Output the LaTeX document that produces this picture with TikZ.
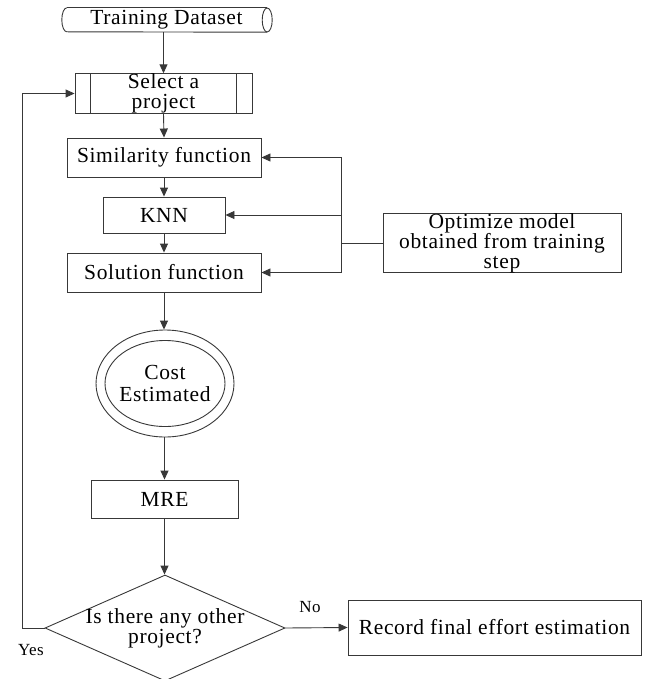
\documentclass[tikz,border=0pt]{standalone}
\usepackage{fontspec}
\setmainfont{Liberation Serif}[LetterSpace=3]
\usetikzlibrary{shapes.geometric,arrows.meta}
\newcommand\fsmain{\fontsize{21.5}{20}\selectfont}
\newcommand\fssmall{\fontsize{17}{17}\selectfont}
\definecolor{lc}{gray}{0.22}
\begin{document}
\begin{tikzpicture}[x=1pt,y=-1pt,
  box/.style={draw=lc, line width=0.9pt, rectangle, inner sep=0pt, align=center, font=\fsmain, text=black},
  lnk/.style={draw=lc, line width=0.9pt},
  arr/.style={draw=lc, line width=0.9pt, -{Triangle[length=9pt,width=8pt]}},
  lbl/.style={font=\fssmall, text=black, inner sep=0pt},
  txt/.style={font=\fsmain, text=black, align=center, inner sep=0pt}]
\useasboundingbox (0,0) rectangle (650,679);

% Training dataset (cylinder)
\node[txt, minimum width=211pt, minimum height=24pt] (tds) at (166.5,20) {Training Dataset};
\draw[lnk] ([xshift=6pt]tds.north west) arc[start angle=90,end angle=270,x radius=5pt,y radius=12pt]
  -- ([xshift=-5pt]tds.south east);
\draw[lnk] ([xshift=6pt]tds.north west) -- ([xshift=-5pt]tds.north east);
\draw[lnk] ([xshift=-5pt]tds.east) ellipse[x radius=5pt, y radius=12pt];

% Select a project
\node[box, minimum width=177pt, minimum height=39pt] (sel) at (163.5,93.5) {Select a\\project};
\draw[lnk] ([xshift=16pt]sel.north west) -- ([xshift=16pt]sel.south west);
\draw[lnk] ([xshift=-16pt]sel.north east) -- ([xshift=-16pt]sel.south east);

\node[box, minimum width=194pt, minimum height=39pt] (sim) at (164,157.5) {Similarity function};
\node[box, minimum width=122pt, minimum height=36pt] (knn) at (164,215) {KNN};
\node[box, minimum width=194pt, minimum height=39pt] (sol) at (164,272.5) {Solution function};

\node[box, minimum width=238pt, minimum height=56pt] (opt) at (502,243) {Optimize model\\obtained from training\\step};

% Cost estimated
\node[ellipse, draw=lc, line width=0.9pt, minimum width=138pt, minimum height=107pt, inner sep=0pt] (cost) at (165,383.5) {};
\node[ellipse, draw=lc, line width=0.9pt, minimum width=120pt, minimum height=86pt, inner sep=0pt] (costin) at (cost.center) {};
\node[txt, font=\fontsize{21.5}{22}\selectfont] (costt) at (cost.center) {Cost\\Estimated};

\node[box, minimum width=147pt, minimum height=38pt] (mre) at (164.5,499) {MRE};

% Decision
\node[diamond, draw=lc, line width=0.9pt, minimum width=240pt, minimum height=106pt, inner sep=0pt] (q) at (165,628) {};
\node[txt] (qt) at (q.center) {Is there any other\\project?};

\node[box, minimum width=293pt, minimum height=55pt] (rec) at (494.5,627.5) {Record final effort estimation};

\node[lbl] (no) at (310,607) {No};
\node[lbl] (yes) at (31,650) {Yes};

% connectors
\draw[arr] (sel.north |- tds.south) -- (sel.north);
\draw[arr] (sel.south) -- (sim.north);
\draw[arr] (sim.south) -- (knn.north);
\draw[arr] (knn.south) -- (sol.north);
\draw[arr] (sol.south) -- (sol.south |- cost.north);
\draw[arr] (mre.north |- cost.south) -- (mre.north);
\draw[arr] (mre.south) -- (mre.south |- q.north);
\draw[arr] (q.east) -- (rec.west);
\draw[arr] (q.west) -- ++(-22pt,0) |- (sel.west);

\coordinate (bus) at (341,243);
\draw[lnk] (opt.west) -- (bus);
\draw[arr] (bus) |- (sim.east);
\draw[arr] (bus) |- (knn.east);
\draw[arr] (bus) |- (sol.east);
\end{tikzpicture}
\end{document}
